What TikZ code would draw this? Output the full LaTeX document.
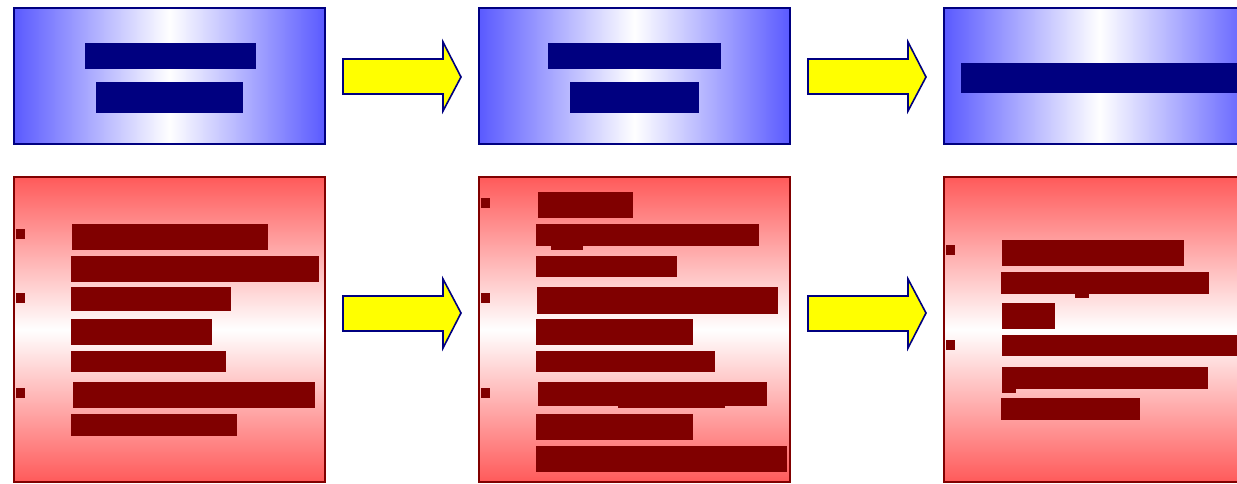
\documentclass[tikz,border=0pt]{standalone}
\usetikzlibrary{calc}
\definecolor{panelblue}{RGB}{90,90,255}
\definecolor{panelred}{RGB}{255,90,90}
\definecolor{darkblue}{RGB}{0,0,128}
\definecolor{darkred}{RGB}{128,0,0}
\definecolor{arrowyellow}{RGB}{255,255,0}
\tikzset{
	bluepanel/.style={draw=darkblue, line width=1.4pt, left color=panelblue, right color=panelblue, middle color=white},
	redpanel/.style={draw=darkred, line width=1.4pt, top color=panelred, bottom color=panelred, middle color=white},
	bluebar/.style={fill=darkblue},
	redbar/.style={fill=darkred},
	yellowarrow/.style={draw=darkblue, line width=1.6pt, fill=arrowyellow, line join=miter}
}
\begin{document}
\begin{tikzpicture}[x=1pt, y=-1pt]
	\useasboundingbox (0,0) rectangle (1237,483);
	\clip (0,0) rectangle (1237,483);
	
	%panels
	\draw[bluepanel] (14,8) rectangle (325,144); \draw[bluepanel] (479,8) rectangle (790,144); \draw[bluepanel] (944,8) rectangle (1255,144);
	\draw[redpanel] (14,177) rectangle (325,482); \draw[redpanel] (479,177) rectangle (790,482); \draw[redpanel] (944,177) rectangle (1255,482);
	
	%blue bars
	\fill[bluebar] (85,43) rectangle (256,69); \fill[bluebar] (96,82) rectangle (243,113);
	\fill[bluebar] (548,43) rectangle (721,69); \fill[bluebar] (570,82) rectangle (699,113);
	\fill[bluebar] (961,63) rectangle (1255,93);
	
	%red bars, left
	\fill[redbar] (16,229) rectangle (25,239); \fill[redbar] (16,293) rectangle (25,303); \fill[redbar] (16,388) rectangle (25,398);
	\fill[redbar] (72,224) rectangle (268,250);
	\fill[redbar] (71,256) rectangle (319,282);
	\fill[redbar] (71,287) rectangle (231,311);
	\fill[redbar] (71,319) rectangle (212,345);
	\fill[redbar] (71,351) rectangle (226,372);
	\fill[redbar] (73,382) rectangle (315,408);
	\fill[redbar] (71,414) rectangle (237,436);
	
	%red bars, middle
	\fill[redbar] (481,198) rectangle (490,208); \fill[redbar] (481,293) rectangle (490,303); \fill[redbar] (481,388) rectangle (490,398);
	\fill[redbar] (538,192) rectangle (633,218);
	\fill[redbar] (536,224) rectangle (759,246); \fill[redbar] (551,246) rectangle (583,250);
	\fill[redbar] (536,256) rectangle (677,277);
	\fill[redbar] (537,287) rectangle (778,314);
	\fill[redbar] (536,319) rectangle (693,345);
	\fill[redbar] (536,351) rectangle (715,372);
	\fill[redbar] (538,382) rectangle (767,406); \fill[redbar] (618,406) rectangle (725,408);
	\fill[redbar] (536,414) rectangle (693,440);
	\fill[redbar] (536,446) rectangle (787,472);
	
	%red bars, right
	\fill[redbar] (946,245) rectangle (955,255); \fill[redbar] (946,340) rectangle (955,350);
	\fill[redbar] (1002,240) rectangle (1184,266);
	\fill[redbar] (1001,272) rectangle (1209,294); \fill[redbar] (1075,294) rectangle (1089,298);
	\fill[redbar] (1002,303) rectangle (1055,329);
	\fill[redbar] (1002,335) rectangle (1255,356);
	\fill[redbar] (1002,367) rectangle (1208,389); \fill[redbar] (1002,389) rectangle (1016,393);
	\fill[redbar] (1001,398) rectangle (1140,420);
	
	%arrows
	\draw[yellowarrow] (343,59)--(443,59)--(443,42)--(461,77)--(443,111)--(443,94)--(343,94)--cycle;
	\draw[yellowarrow] (808,59)--(908,59)--(908,42)--(926,77)--(908,111)--(908,94)--(808,94)--cycle;
	\draw[yellowarrow] (343,296)--(443,296)--(443,279)--(461,313)--(443,348)--(443,331)--(343,331)--cycle;
	\draw[yellowarrow] (808,296)--(908,296)--(908,279)--(926,313)--(908,348)--(908,331)--(808,331)--cycle;
\end{tikzpicture}
\end{document}
